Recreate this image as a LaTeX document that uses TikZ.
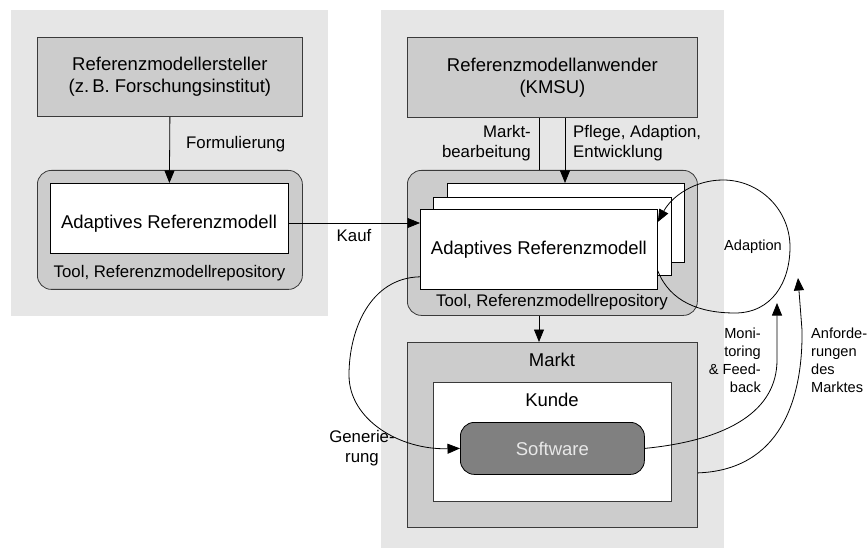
\documentclass[tikz,border=0pt]{standalone}
\usepackage{fontspec}
\setmainfont{Liberation Sans}
\usetikzlibrary{arrows.meta}
\definecolor{bglight}{HTML}{E6E6E6}
\definecolor{boxgray}{HTML}{CCCCCC}
\definecolor{swgray}{HTML}{808080}
\definecolor{swtext}{HTML}{E8E8E8}
\definecolor{edgegray}{HTML}{3A3A3A}
\newcommand{\fbig}{\fontsize{18.5}{22}\selectfont}
\newcommand{\fmid}{\fontsize{16.8}{20}\selectfont}
\newcommand{\fsmall}{\fontsize{14.6}{18}\selectfont}
\begin{document}
\begin{tikzpicture}[x=1pt,y=-1pt,
  bgpanel/.style={fill=bglight, draw=none, inner sep=0pt, anchor=north west},
  graybox/.style={fill=boxgray, draw=edgegray, line width=0.8pt, inner sep=0pt, anchor=north west, align=center, font=\fbig},
  container/.style={graybox, rounded corners=14pt},
  whitebox/.style={fill=white, draw=black, line width=0.8pt, inner sep=0pt, anchor=north west, align=center, font=\fbig},
  kundebox/.style={fill=white, draw=edgegray, line width=0.8pt, inner sep=0pt, anchor=north west},
  swbox/.style={fill=swgray, draw=black, line width=0.8pt, rounded corners=14pt, inner sep=0pt, anchor=north west, text=swtext, font=\fbig},
  title/.style={font=\fbig, inner sep=0pt},
  lbl/.style={font=\fmid, inner sep=0pt},
  slbl/.style={font=\fsmall, inner sep=0pt},
  conn/.style={draw=black, line width=0.8pt},
  arr/.style={conn, -{Triangle[length=12.5pt,width=10pt]}}
]
\useasboundingbox (0,0) rectangle (868,548);

% background panels
\node[bgpanel, minimum width=317pt, minimum height=306pt] (leftbg) at (11,10) {};
\node[bgpanel, minimum width=343pt, minimum height=538pt] (rightbg) at (381,10) {};

% left panel
\node[graybox, minimum width=265pt, minimum height=79pt] (ersteller) at (37,37)
  {Referenzmodellersteller\\(z.\,B. Forschungsinstitut)};
\node[container, minimum width=265pt, minimum height=119pt] (tool1) at (37,170) {};
\node[whitebox, minimum width=238pt, minimum height=70pt] (inner1) at (50,183) {};
\node[title] (inner1txt) at (169,224) {Adaptives Referenzmodell};
\node[lbl] (tool1txt) at (169.5,273) {Tool, Referenzmodellrepository};

% right panel
\node[graybox, minimum width=290pt, minimum height=80pt] (anwender) at (407,37)
  {Referenzmodellanwender\\(KMSU)};
\node[container, minimum width=290pt, minimum height=145pt] (tool2) at (407,170) {};
\node[whitebox, minimum width=237pt, minimum height=79pt] (page3) at (447,183) {};
\node[whitebox, minimum width=238pt, minimum height=78pt] (page2) at (433,197) {};
\node[whitebox, minimum width=237pt, minimum height=80pt] (page1) at (420,209) {Adaptives Referenzmodell};
\node[lbl] (tool2txt) at (552,302) {Tool, Referenzmodellrepository};

\node[graybox, minimum width=290pt, minimum height=185pt] (markt) at (407,342) {};
\node[title] (markttxt) at (552,360) {Markt};
\node[kundebox, minimum width=238pt, minimum height=119pt] (kunde) at (433,382) {};
\node[title] (kundetxt) at (552,400) {Kunde};
\node[swbox, minimum width=184pt, minimum height=52pt] (software) at (460,422) {Software};

% helper coordinates
\coordinate (mbx) at (539,0);
\coordinate (pflx) at (565,0);
\coordinate (kaufy) at (0,223);
\coordinate (monend) at (777,303);
\coordinate (anfend) at (798,278);
\coordinate (adstart) at ([yshift=19pt]page1.south east);
\coordinate (adend) at ([yshift=-13pt]page1.north east);
\coordinate (genstart) at ([yshift=13pt]page1.south west);
\coordinate (anfstart) at ([yshift=-38pt]markt.east);

% straight connectors
\draw[arr] (ersteller.south) -- (inner1.north);
\draw[arr] (inner1.east |- kaufy) -- (page1.west |- kaufy);
\draw[conn] (anwender.south -| mbx) -- (tool2.north -| mbx);
\draw[arr] (anwender.south -| pflx) -- (page3.north -| pflx);
\draw[arr] (tool2.south -| mbx) -- (markt.north -| mbx);

% curved connectors
\draw[arr] (genstart) .. controls (370,278) and (349,330) .. (349,375)
  .. controls (349,420) and (400,450) .. (software.west);
\draw[arr] (software.east) .. controls (730,440) and (777,410) .. (777,360) -- (monend);
\draw[arr] (anfstart) .. controls (780,470) and (803,400) .. (802,330) -- (anfend);
\draw[arr] (adstart) .. controls (670,302) and (700,313) .. (735,313)
  .. controls (772,313) and (790,282) .. (790,247)
  .. controls (790,210) and (760,180) .. (723,180)
  .. controls (695,180) and (672,196) .. (adend);

% labels
\node[lbl, anchor=west] (formlbl) at (186,144) {Formulierung};
\node[lbl] (kauflbl) at (354,236) {Kauf};
\node[lbl, anchor=east, align=right] (mblbl) at (531,143) {Markt-\\bearbeitung};
\node[lbl, anchor=west, align=left] (pfllbl) at (573,143) {Pflege, Adaption,\\Entwicklung};
\node[slbl] (adlbl) at (753,247) {Adaption};
\node[slbl, anchor=east, align=right] (monlbl) at (761,360) {Moni-\\toring\\\& Feed-\\back};
\node[slbl, anchor=west, align=left] (anflbl) at (811,360) {Anforde-\\rungen\\des\\Marktes};
\node[lbl, align=center] (genlbl) at (362,448) {Generie-\\rung};
\end{tikzpicture}
\end{document}
